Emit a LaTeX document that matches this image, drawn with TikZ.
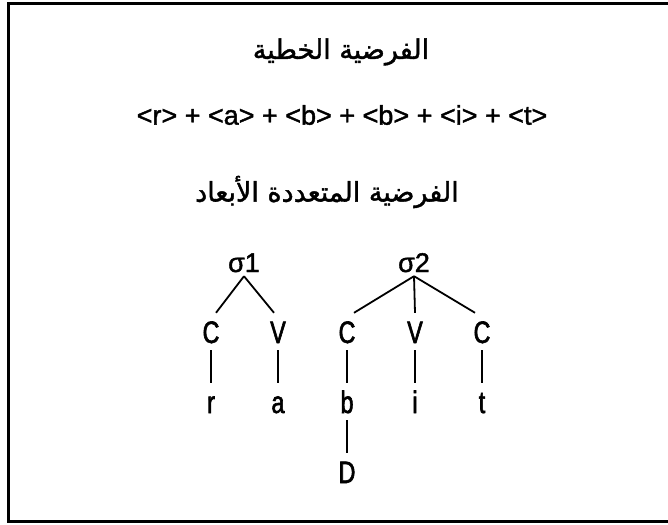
\documentclass[tikz,border=0pt]{standalone}
\usepackage{fontspec}
\setmainfont[FakeBold=1.5]{Liberation Sans}
\newfontfamily\arabicfont[Script=Arabic,FakeBold=1.5]{DejaVu Sans}
\newfontfamily\narrowfont[FakeStretch=0.75,FakeBold=2]{Liberation Sans}
\TeXXeTstate=1
\tikzset{
  treenode/.style={font=\narrowfont\fontsize{31}{31}\selectfont, anchor=base, inner xsep=0pt, inner ysep=7pt, text height=23pt, text depth=0pt},
  signode/.style={font=\fontsize{27}{27}\selectfont, anchor=base, inner xsep=0pt, inner ysep=4pt, text height=19pt, text depth=0pt},
  titlenode/.style={font=\arabicfont\fontsize{27}{27}\selectfont, inner sep=0pt},
  formnode/.style={font=\fontsize{27}{27}\selectfont, inner sep=0pt},
  branch/.style={line width=1.8pt},
  frame/.style={line width=2.5pt}
}
\begin{document}
\begin{tikzpicture}[x=1pt,y=-1pt]
\useasboundingbox (0,0) rectangle (668,524);
\draw[frame] (668,3.5) -- (8.5,3.5) -- (8.5,521.5) -- (668,521.5);
\node[titlenode] (t1) at (341,52) {\beginR الفرضية الخطية\endR};
\node[formnode] (f) at (342,115) {<r> + <a> + <b> + <b> + <i> + <t>};
\node[titlenode] (t2) at (327,192) {\beginR الفرضية المتعددة الأبعاد\endR};
\node[signode] (s1) at (244,272) {σ1};
\node[signode] (s2) at (414,272) {σ2};
\node[treenode] (c1) at (211,343) {C};
\node[treenode] (v1) at (278,343) {V};
\node[treenode] (c2) at (347,343) {C};
\node[treenode] (v2) at (415,343) {V};
\node[treenode] (c3) at (482,343) {C};
\node[treenode] (r) at (211,413) {r};
\node[treenode] (a) at (278,413) {a};
\node[treenode] (b) at (347,413) {b};
\node[treenode] (i) at (415,413) {i};
\node[treenode] (t) at (482,413) {t};
\node[treenode] (d) at (347,483) {D};
\draw[branch] (s1.south) -- ([xshift=5pt]c1.north);
\draw[branch] (s1.south) -- ([xshift=-4pt]v1.north);
\draw[branch] (s2.south) -- ([xshift=7pt]c2.north);
\draw[branch] (s2.south) -- (v2.north);
\draw[branch] (s2.south) -- ([xshift=-7pt]c3.north);
\draw[branch] (c1.south) -- (r.north);
\draw[branch] (v1.south) -- (a.north);
\draw[branch] (c2.south) -- (b.north);
\draw[branch] (v2.south) -- (i.north);
\draw[branch] (c3.south) -- (t.north);
\draw[branch] (b.south) -- (d.north);
\end{tikzpicture}
\end{document}
